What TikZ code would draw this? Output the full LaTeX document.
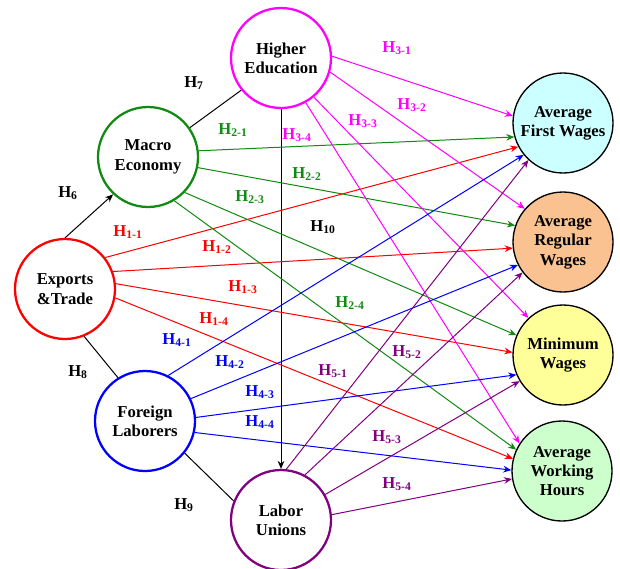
\documentclass[tikz,border=0pt]{standalone}
\usepackage{fontspec}
\setmainfont{Liberation Serif}
\usetikzlibrary{arrows.meta}
\definecolor{ecogreen}{HTML}{108A10}
\definecolor{edumagenta}{HTML}{FF00FF}
\definecolor{unionpurple}{HTML}{800080}
\definecolor{firstfill}{HTML}{CCFFFF}
\definecolor{regfill}{HTML}{F9C290}
\definecolor{minfill}{HTML}{FFFF99}
\definecolor{hourfill}{HTML}{CCFFCC}
\newcommand{\hyp}[1]{H\textsubscript{#1}}
\tikzset{
  factor/.style={circle, line width=1.7pt, minimum size=75pt, inner sep=0pt, align=center,
    font=\bfseries\fontsize{12.5}{14.5}\selectfont},
  outcome/.style={factor, draw=black, line width=1pt},
  link/.style={-{Stealth[length=6pt,width=5pt]}, line width=0.75pt},
  hlabel/.style={font=\bfseries\fontsize{12.5}{14.5}\selectfont, inner sep=0pt}
}
\begin{document}
\begin{tikzpicture}[x=0.75pt,y=-0.75pt]
            \useasboundingbox (0,0) rectangle (620,568);
            \node[factor, draw=edumagenta] (edu) at (281,58) {Higher\\Education};
            \node[factor, draw=ecogreen] (macro) at (148,157) {Macro\\Economy};
            \node[factor, draw=red] (exp) at (65,289) {Exports\\\&Trade};
            \node[factor, draw=blue] (foreign) at (145,421) {Foreign\\Laborers};
            \node[factor, draw=unionpurple] (union) at (281,520) {Labor\\Unions};
            \node[outcome, fill=firstfill] (first) at (563,123) {Average\\First Wages};
            \node[outcome, fill=regfill] (regular) at (563,242) {Average\\Regular\\Wages};
            \node[outcome, fill=minfill] (minimum) at (563,355) {Minimum\\Wages};
            \node[outcome, fill=hourfill] (hours) at (562,471) {Average\\Working\\Hours};

            \draw[link, black] (exp.90) -- (macro.227);
            \draw[line width=0.75pt] (edu.219) -- (macro.35);
            \draw[line width=0.75pt] (exp.292) -- (foreign.122);
            \draw[line width=0.75pt] (foreign.321) -- (union.158);
            \draw[link, black] (edu.270) -- (union.90);

            \draw[link, red] (exp.38) -- (first.208);
            \draw[link, red] (exp.20) -- (regular.187);
            \draw[link, red] (exp.6) -- (minimum.177);
            \draw[link, red] (exp.350) -- (hours.166);

            \draw[link, ecogreen] (macro.7) -- (first.196);
            \draw[link, ecogreen] (macro.348) -- (regular.161);
            \draw[link, ecogreen] (macro.316) -- (minimum.157);
            \draw[link, ecogreen] (macro.301) -- (hours.155);

            \draw[link, edumagenta] (edu.2) -- (first.172);
            \draw[link, edumagenta] (edu.344) -- (regular.139);
            \draw[link, edumagenta] (edu.310) -- (minimum.133);
            \draw[link, edumagenta] (edu.299) -- (hours.147);

            \draw[link, blue] (foreign.63) -- (first.219);
            \draw[link, blue] (foreign.26) -- (regular.207);
            \draw[link, blue] (foreign.4) -- (minimum.203);
            \draw[link, blue] (foreign.347) -- (hours.179);

            \draw[link, unionpurple] (union.84) -- (first.227);
            \draw[link, unionpurple] (union.62) -- (regular.217);
            \draw[link, unionpurple] (union.30) -- (minimum.211);
            \draw[link, unionpurple] (union.6) -- (hours.189);

            \node[hlabel] (h6) at (68,193) {\hyp{6}};
            \node[hlabel] (h7) at (194,83) {\hyp{7}};
            \node[hlabel] (h8) at (78,372) {\hyp{8}};
            \node[hlabel] (h9) at (184,505) {\hyp{9}};
            \node[hlabel] (h10) at (323,227) {\hyp{10}};
            \node[hlabel, red] (h11) at (128,232) {\hyp{1-1}};
            \node[hlabel, red] (h12) at (217,247) {\hyp{1-2}};
            \node[hlabel, red] (h13) at (243,287) {\hyp{1-3}};
            \node[hlabel, red] (h14) at (214,319) {\hyp{1-4}};
            \node[hlabel, ecogreen] (h21) at (233,130) {\hyp{2-1}};
            \node[hlabel, ecogreen] (h22) at (307,174) {\hyp{2-2}};
            \node[hlabel, ecogreen] (h23) at (250,197) {\hyp{2-3}};
            \node[hlabel, ecogreen] (h24) at (350,303) {\hyp{2-4}};
            \node[hlabel, edumagenta] (h31) at (397,48) {\hyp{3-1}};
            \node[hlabel, edumagenta] (h32) at (412,105) {\hyp{3-2}};
            \node[hlabel, edumagenta] (h33) at (363,121) {\hyp{3-3}};
            \node[hlabel, edumagenta] (h34) at (297,135) {\hyp{3-4}};
            \node[hlabel, blue] (h41) at (177,340) {\hyp{4-1}};
            \node[hlabel, blue] (h42) at (230,362) {\hyp{4-2}};
            \node[hlabel, blue] (h43) at (260,392) {\hyp{4-3}};
            \node[hlabel, blue] (h44) at (260,422) {\hyp{4-4}};
            \node[hlabel, unionpurple] (h51) at (333,371) {\hyp{5-1}};
            \node[hlabel, unionpurple] (h52) at (407,352) {\hyp{5-2}};
            \node[hlabel, unionpurple] (h53) at (387,437) {\hyp{5-3}};
            \node[hlabel, unionpurple] (h54) at (397,484) {\hyp{5-4}};
        \end{tikzpicture}
\end{document}
